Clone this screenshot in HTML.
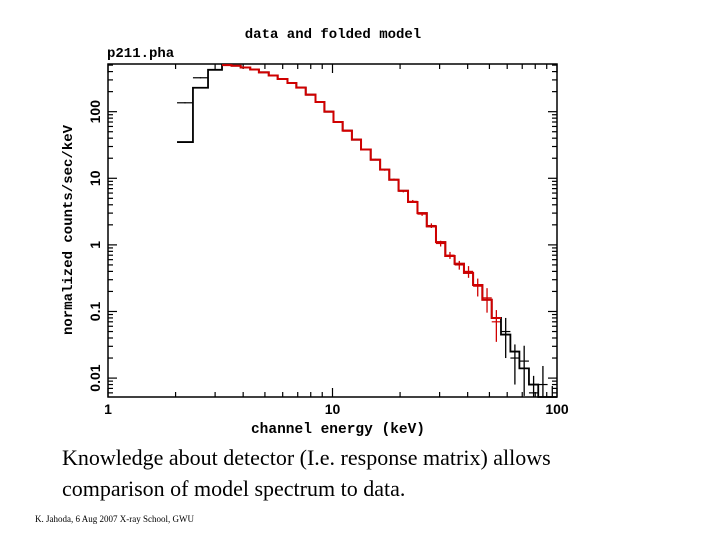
<!DOCTYPE html>
<html><head><meta charset="utf-8"><style>
body{margin:0;background:#fff;width:720px;height:540px;overflow:hidden;position:relative}
.t{position:absolute;white-space:nowrap}
</style></head><body>
<svg width="720" height="540" style="position:absolute;left:0;top:0">
<g id="axes"></g>
<g id="marks"></g>
<text x="333" y="38" text-anchor="middle" font-family="Liberation Mono,monospace" font-weight="bold" font-size="14">data and folded model</text>
<text x="107" y="57" font-family="Liberation Mono,monospace" font-weight="bold" font-size="14">p211.pha</text>
<text transform="translate(72,230) rotate(-90)" text-anchor="middle" font-family="Liberation Mono,monospace" font-weight="bold" font-size="14">normalized counts/sec/keV</text>
<text x="338" y="433" font-family="Liberation Mono,monospace" font-weight="bold" font-size="14.5" text-anchor="middle">channel energy (keV)</text>
</svg>
<div class="t" style="left:62px;top:445px;font:22px 'Liberation Serif',serif">Knowledge about detector (I.e. response matrix) allows</div>
<div class="t" style="left:62px;top:476px;font:22px 'Liberation Serif',serif">comparison of model spectrum to data.</div>
<div class="t" style="left:35px;top:514px;font:9px 'Liberation Serif',serif">K. Jahoda, 6 Aug 2007 X-ray School, GWU</div>
<script>
const edges=[2.03,2.39,2.79,3.22,3.55,3.9,4.3,4.7,5.2,5.7,6.3,6.9,7.6,8.4,9.2,10.1,11.1,12.2,13.4,14.8,16.3,17.9,19.7,21.7,23.9,26.3,28.9,31.8,35,38.5,42.3,46.5,51.2,56.3,62,68,75,82.5,90.8,100];
const model=[35,229,425,500,490,460,430,390,350,310,270,230,180,140,100,70,52,38,27,19,13.5,9.5,6.5,4.4,3,1.9,1.1,0.68,0.52,0.38,0.25,0.15,0.08,0.045,0.025,0.014,0.008,0.005,0.0035];
const data=[136,323,425,505,488,462,428,392,348,312,268,232,178,141,99,71,51,38.5,27,19.2,13.4,9.6,6.4,4.5,2.9,1.95,1.05,0.7,0.5,0.4,0.24,0.16,0.07,0.05,0.02,0.018,0.006,0.008,0.004];
const errs=[0.02,0.02,0.02,0.01,0.01,0.01,0.01,0.01,0.01,0.01,0.01,0.01,0.01,0.01,0.01,0.01,0.01,0.02,0.02,0.02,0.03,0.03,0.04,0.05,0.06,0.08,0.1,0.12,0.15,0.2,0.3,0.4,0.5,0.6,0.6,0.7,0.8,0.9,0.9];
const xTicks=[1,10,100],xLabels=["1","10","100"];
const yTicks=[0.01,0.1,1,10,100],yLabels=["0.01","0.1","1","10","100"];
const L=108,R=557,T=64,B=397;
const X=e=>L+(R-L)*Math.log10(e)/2;
const ymin=Math.log10(0.0052),ymax=Math.log10(520);
const Y=v=>{let y=B-(B-T)*(Math.log10(v)-ymin)/(ymax-ymin);return Math.max(T,Math.min(B,y));};
const NS="http://www.w3.org/2000/svg";
function mk(p,tag,a){const e=document.createElementNS(NS,tag);for(const k in a)e.setAttribute(k,a[k]);p.appendChild(e);return e;}
const ax=document.getElementById('axes'),mg=document.getElementById('marks');
const fr=mk(ax,'rect',{x:L,y:T,width:R-L,height:B-T,fill:'none',stroke:'#000','stroke-width':1.5});

for(let d=0;d<2;d++)for(let m=1;m<=10;m++){const e=Math.pow(10,d)*m;if(m==10&&d==0)continue;const x=X(e),len=(m==1||m==10)?9:5;
 mk(ax,'line',{x1:x,x2:x,y1:B,y2:B-len,stroke:'#000','stroke-width':1.2});mk(ax,'line',{x1:x,x2:x,y1:T,y2:T+len,stroke:'#000','stroke-width':1.2});}
for(let d=-3;d<3;d++)for(let m=1;m<10;m++){const v=Math.pow(10,d)*m;const lv=Math.log10(v);if(lv<ymin||lv>ymax)continue;const y=Y(v),len=m==1?9:5;
 mk(ax,'line',{x1:L,x2:L+len,y1:y,y2:y,stroke:'#000','stroke-width':1.2});mk(ax,'line',{x1:R,x2:R-len,y1:y,y2:y,stroke:'#000','stroke-width':1.2});}
xTicks.forEach((t,i)=>{const e=mk(ax,'text',{x:X(t),y:414,'text-anchor':'middle','font-family':'Liberation Sans,sans-serif','font-weight':'bold','font-size':14});e.textContent=xLabels[i];
});
yTicks.forEach((t,i)=>{const e=mk(ax,'text',{transform:`translate(100,${Y(t)}) rotate(-90)`,'text-anchor':'middle','font-family':'Liberation Sans,sans-serif','font-weight':'bold','font-size':14});e.textContent=yLabels[i];
});
for(let i=0;i<model.length;i++){
 const x1=X(edges[i]),x2=X(edges[i+1]),xc=(x1+x2)/2;
 const c=(i<3||edges[i]>=56)?'#000':'#d00000';
 const dv=data[i],lo=Math.max(dv*(1-errs[i]),0.001),hi=dv*(1+errs[i]);
 const eb=mk(mg,'line',{x1:xc,x2:xc,y1:Y(lo),y2:Y(hi),stroke:c,'stroke-width':1.3});
 
 const dp=mk(mg,'line',{x1:x1,x2:x2,y1:Y(dv),y2:Y(dv),stroke:c,'stroke-width':1.2});
 
}
let d='';for(let i=0;i<model.length;i++){const y=Y(model[i]);d+=(i==0?'M':'L')+X(edges[i])+','+y+'L'+X(edges[i+1])+','+y;}
const ml=mk(mg,'path',{d:d,fill:'none',stroke:'#000','stroke-width':1.8});

let d2='';for(let i=3;i<model.length&&edges[i]<56;i++){const y=Y(model[i]);d2+=(d2?'L':'M')+X(edges[i])+','+y+'L'+X(edges[i+1])+','+y;}
const mr=mk(mg,'path',{d:d2,fill:'none',stroke:'#d00000','stroke-width':2});

</script>
</body></html>
